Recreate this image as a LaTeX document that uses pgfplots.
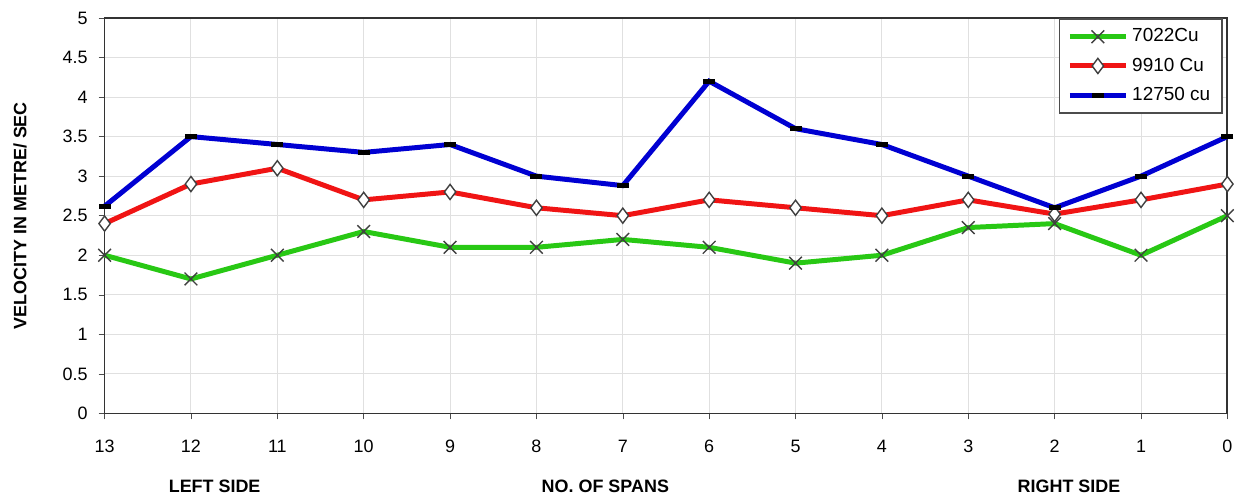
\documentclass[border=0pt]{standalone}
\usepackage{fontspec}
\setmainfont{Liberation Sans}
\usepackage{pgfplots}
\pgfplotsset{compat=1.18}
\definecolor{cgreen}{RGB}{40,200,20}
\definecolor{cred}{RGB}{240,20,20}
\definecolor{cblue}{RGB}{0,0,210}
\begin{document}
\begin{tikzpicture}
\begin{axis}[
  scale only axis, clip=false,
  width=563.5pt, height=198.5pt,
  xmin=0, xmax=13, x dir=reverse,
  ymin=0, ymax=5,
  xtick={0,...,13},
  ytick={0,0.5,...,5},
  yticklabels={0,0.5,1,1.5,2,2.5,3,3.5,4,4.5,5},
  /pgf/number format/assume math mode=true,
  tick label style={font=\fontsize{9}{11}\selectfont},
  xticklabel style={yshift=-7pt},
  yticklabel style={xshift=-2pt},
  tick align=outside, major tick length=3pt,
  xtick pos=bottom, ytick pos=left,
  tick style={black!70},
  grid=major,
  major grid style={black!12, line width=0.5pt},
  axis line style={black!80, line width=0.9pt},
  ylabel={\bfseries VELOCITY IN METRE/ SEC},
  every axis y label/.style={at={(axis description cs:-0.0754,0.5)}, rotate=90, anchor=center, font=\fontsize{9}{11}\selectfont},
  legend style={at={(rel axis cs:0.996,1)}, anchor=north east, draw=black!70, line width=0.8pt,
    font=\fontsize{9.5}{11}\selectfont, row sep=2.5pt, inner xsep=4pt, inner ysep=3pt},
  legend cell align=left,
  legend image code/.code={
    \draw[#1, mark=none] (0pt,0pt) -- (28pt,0pt);
    \draw[#1, only marks] plot coordinates {(14pt,0pt)};
  },
]
\addplot[cgreen, line width=2.5pt, mark=x, mark size=4.5pt,
  mark options={draw=black!75, line width=0.7pt}]
  coordinates {(13,2.0) (12,1.7) (11,2.0) (10,2.3) (9,2.1) (8,2.1) (7,2.2) (6,2.1) (5,1.9) (4,2.0) (3,2.35) (2,2.4) (1,2.0) (0,2.5)};
\addlegendentry{7022Cu}
\addplot[cred, line width=2.5pt, mark=diamond*, mark size=3.8pt,
  mark options={draw=black!75, fill=white, line width=0.7pt}]
  coordinates {(13,2.4) (12,2.9) (11,3.1) (10,2.7) (9,2.8) (8,2.6) (7,2.5) (6,2.7) (5,2.6) (4,2.5) (3,2.7) (2,2.52) (1,2.7) (0,2.9)};
\addlegendentry{9910 Cu}
\addplot[cblue, line width=2.5pt, mark=-, mark size=3pt,
  mark options={draw=black, line width=2.5pt}]
  coordinates {(13,2.62) (12,3.5) (11,3.4) (10,3.3) (9,3.4) (8,3.0) (7,2.88) (6,4.2) (5,3.6) (4,3.4) (3,3.0) (2,2.6) (1,3.0) (0,3.5)};
\addlegendentry{12750 cu}
\node[font=\fontsize{9}{11}\selectfont\bfseries] at (rel axis cs:0.098,-0.184) {LEFT SIDE};
\node[font=\fontsize{9}{11}\selectfont\bfseries] at (rel axis cs:0.446,-0.184) {NO. OF SPANS};
\node[font=\fontsize{9}{11}\selectfont\bfseries] at (rel axis cs:0.859,-0.184) {RIGHT SIDE};
\path (rel axis cs:0,0) ++(-52.5pt,-43.5pt) (rel axis cs:1,1) ++(3.5pt,9pt);
\end{axis}
\end{tikzpicture}
\end{document}
